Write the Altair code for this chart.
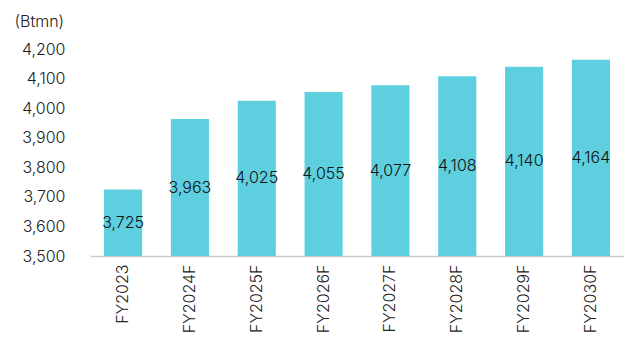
import altair as alt
import pandas as pd

categories = ["FY2023", "FY2024F", "FY2025F", "FY2026F", "FY2027F", "FY2028F", "FY2029F", "FY2030F"]
values = [3725, 3963, 4025, 4055, 4077, 4108, 4140, 4164]
y_ticks = [3500, 3600, 3700, 3800, 3900, 4000, 4100, 4200]
baseline = 3500

df = pd.DataFrame({"cat": categories, "val": values})

FONT = "Inter"
x_enc = alt.X("cat:N", sort=categories,
              scale=alt.Scale(paddingInner=0.43, paddingOuter=0.21),
              axis=alt.Axis(title=None, labelAngle=-90, labelFontSize=16, labelFont=FONT,
                            labelFontWeight=300, labelColor="#222", labelPadding=8,
                            ticks=False, domainColor="#cccccc", domainWidth=1.5))

yscale = alt.Scale(domain=[3500, 4200], zero=False, nice=False)
yaxis = alt.Axis(values=y_ticks, format=",d", grid=False, domain=False, ticks=False,
                 labelOverlap=False,
                 labelFontSize=16, labelFont=FONT, labelFontWeight=300,
                 labelColor="#222", labelPadding=25,
                 title="(Btmn)", titleAngle=0, titleAlign="left", titleBaseline="middle",
                 titleX=-76, titleY=-28, titleFontSize=16, titleFont=FONT,
                 titleFontWeight=300, titleColor="#222")

bars = alt.Chart(df).mark_bar(color="#5ecfdf").encode(
    x=x_enc,
    y=alt.Y("val:Q", scale=yscale, axis=yaxis, title="(Btmn)"),
    y2=alt.datum(baseline),
)

labels = alt.Chart(df).transform_calculate(
    mid=f"(datum.val + {baseline}) / 2",
    lbl="format(datum.val, ',d')",
).mark_text(fontSize=16, font=FONT, fontWeight=300, color="#111").encode(
    x=alt.X("cat:N", sort=categories),
    y=alt.Y("mid:Q", scale=yscale, axis=yaxis, title="(Btmn)"),
    text="lbl:N",
)

chart = alt.layer(bars, labels).properties(
    width=534, height=207,
    autosize=alt.AutoSizeParams(type="none"),
    padding={"left": 90, "top": 49, "right": 0, "bottom": 89},
).configure_view(stroke=None)

chart.save("out.html", embed_options={"renderer": "svg", "actions": False})
